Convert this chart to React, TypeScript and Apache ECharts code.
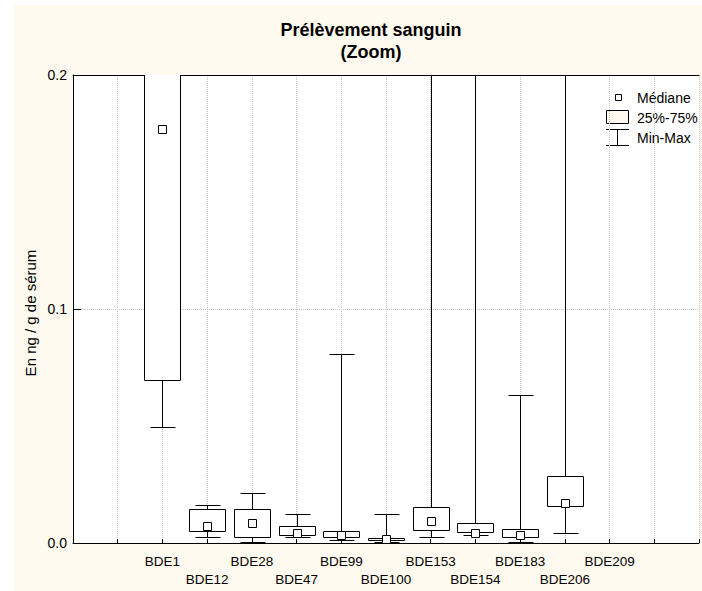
import { useEffect, useRef } from 'react';
import * as echarts from 'echarts';

// ---- data ----
const categories = ['BDE1', 'BDE12', 'BDE28', 'BDE47', 'BDE99', 'BDE100', 'BDE153', 'BDE154', 'BDE183', 'BDE206', 'BDE209'];
const minValues: (number | null)[] = [0.0496, 0.0024, 0.0006, 0.0024, 0.0013, 0.0003, 0.0027, 0.0034, 0.0006, 0.0044, null];
const q1Values: (number | null)[] = [0.0697, 0.0053, 0.0027, 0.0034, 0.0024, 0.0013, 0.0056, 0.0046, 0.0024, 0.0158, null];
const medianValues: (number | null)[] = [0.1768, 0.0074, 0.0084, 0.0041, 0.0034, 0.0016, 0.0094, 0.0041, 0.0033, 0.017, null];
const q3Values: (number | null)[] = [0.26, 0.0144, 0.0145, 0.0073, 0.0051, 0.0023, 0.0155, 0.0087, 0.0061, 0.0286, null];
const maxValues: (number | null)[] = [0.32, 0.0164, 0.0215, 0.0124, 0.0806, 0.0124, 0.24, 0.23, 0.0634, 0.22, null];
const yTicks = [0, 0.1, 0.2];
const titleLines = ['Prélèvement sanguin', '(Zoom)'];
const yName = 'En ng / g de sérum';
const legendNames = ['Médiane', '25%-75%', 'Min-Max'];

const FONT = "'Liberation Sans', Arial, Helvetica, sans-serif";
const CREAM = '#FFFAEF';
const LEAD = 2; // empty slots before first category
const tickNames: string[] = [];
for (let i = 0; i <= categories.length + LEAD + 1; i++) {
  tickNames.push(i >= LEAD && i < LEAD + categories.length ? categories[i - LEAD] : '');
}
const xMax = tickNames.length - 1;

const px = (v: number) => Math.round(v) + 0.5;

export default function App() {
  const ref = useRef<HTMLDivElement>(null);
  useEffect(() => {
    document.body.style.margin = '0';
    const chart = echarts.init(ref.current!, null, { renderer: 'svg' });
    const data = categories
      .map((_, i) => [i + LEAD, minValues[i], q1Values[i], medianValues[i], q3Values[i], maxValues[i]])
      .filter((d) => d[1] != null);

    const lineStyle = { stroke: '#000', lineWidth: 1 };

    chart.setOption({
      animation: false,
      backgroundColor: CREAM,
      textStyle: { fontFamily: FONT },
      grid: { left: 59, top: 70, width: 640, height: 468, show: true, backgroundColor: '#fff', borderWidth: 0 },
      xAxis: [
        {
          type: 'value',
          min: 0,
          max: xMax,
          interval: 1,
          position: 'bottom',
          axisLine: { show: true, lineStyle: { color: '#000', width: 1 } },
          axisTick: { show: true, inside: true, length: 4, lineStyle: { color: '#000' } },
          axisLabel: {
            margin: 9,
            fontSize: 13.5,
            lineHeight: 18,
            color: '#000',
            fontFamily: FONT,
            showMinLabel: true,
            showMaxLabel: true,
            formatter: (v: number) => {
              const i = Math.round(v);
              const n = tickNames[i];
              if (!n) return '';
              return (i - LEAD) % 2 === 0 ? n : '\n' + n;
            },
          },
          splitLine: { show: true, lineStyle: { color: '#c4c4c4', type: 'dotted', width: 1 } },
        },
        {
          type: 'value',
          min: 0,
          max: xMax,
          interval: 1,
          position: 'top',
          axisLine: { show: true, lineStyle: { color: '#000', width: 1 } },
          axisTick: { show: false },
          axisLabel: { show: false },
          splitLine: { show: false },
        },
      ],
      yAxis: {
        type: 'value',
        min: yTicks[0],
        max: yTicks[yTicks.length - 1],
        interval: yTicks[1] - yTicks[0],
        axisLine: { show: true, lineStyle: { color: '#000', width: 1 } },
        axisTick: { show: true, inside: true, length: 8, lineStyle: { color: '#000' } },
        axisLabel: {
          margin: 6,
          fontSize: 14,
          color: '#000',
          fontFamily: FONT,
          formatter: (v: number) => v.toFixed(1),
        },
        splitLine: { show: true, lineStyle: { color: '#c4c4c4', type: 'dotted', width: 1 } },
      },
      series: [
        {
          type: 'custom',
          xAxisIndex: 0,
          yAxisIndex: 0,
          clip: true,
          data,
          encode: { x: 0, y: [1, 2, 3, 4, 5] },
          renderItem: (_params: any, api: any) => {
            const x = api.value(0);
            const cx = px(api.coord([x, 0])[0]);
            const yMin = px(api.coord([x, api.value(1)])[1]);
            const yQ1 = px(api.coord([x, api.value(2)])[1]);
            const yMed = api.coord([x, api.value(3)])[1];
            const yQ3 = px(api.coord([x, api.value(4)])[1]);
            const yMax = px(api.coord([x, api.value(5)])[1]);
            const slot = api.size([1, 0])[0];
            const bw = Math.round(slot * 0.8);
            const cw = Math.round(slot * 0.56);
            const bl = px(cx - 0.5 - bw / 2);
            const cl = px(cx - 0.5 - cw / 2);
            const ms = 8;
            const mTop = Math.round(yMed - ms / 2) + 0.5;
            return {
              type: 'group',
              children: [
                { type: 'line', shape: { x1: cx, y1: yQ3, x2: cx, y2: yMax }, style: lineStyle },
                { type: 'line', shape: { x1: cx, y1: yQ1, x2: cx, y2: yMin }, style: lineStyle },
                { type: 'line', shape: { x1: cl, y1: yMax, x2: cl + cw, y2: yMax }, style: lineStyle },
                { type: 'line', shape: { x1: cl, y1: yMin, x2: cl + cw, y2: yMin }, style: lineStyle },
                {
                  type: 'rect',
                  shape: { x: bl, y: yQ3, width: bw, height: yQ1 - yQ3 },
                  style: { fill: '#fff', stroke: '#000', lineWidth: 1 },
                },
                {
                  type: 'rect',
                  shape: { x: cx - ms / 2, y: mTop, width: ms, height: ms },
                  style: { fill: '#fff', stroke: '#000', lineWidth: 1 },
                },
              ],
            };
          },
        },
      ],
      graphic: [
        {
          type: 'text',
          x: 357,
          y: 25,
          style: { text: titleLines[0], font: `bold 18px ${FONT}`, fill: '#000', align: 'center', verticalAlign: 'middle' },
        },
        {
          type: 'text',
          x: 357,
          y: 47,
          style: { text: titleLines[1], font: `bold 18px ${FONT}`, fill: '#000', align: 'center', verticalAlign: 'middle' },
        },
        {
          type: 'text',
          x: 16,
          y: 308,
          rotation: Math.PI / 2,
          style: { text: yName, font: `15px ${FONT}`, fill: '#000', align: 'center', verticalAlign: 'middle' },
        },
        // legend
        {
          type: 'rect',
          shape: { x: 601.5, y: 89.5, width: 6, height: 6 },
          style: { fill: '#fff', stroke: '#000', lineWidth: 1 },
        },
        {
          type: 'text',
          x: 623,
          y: 93,
          style: { text: legendNames[0], font: `14px ${FONT}`, fill: '#000', align: 'left', verticalAlign: 'middle' },
        },
        {
          type: 'rect',
          shape: { x: 592.5, y: 105.5, width: 22, height: 13 },
          style: { fill: CREAM, stroke: '#000', lineWidth: 1 },
        },
        {
          type: 'text',
          x: 623,
          y: 113,
          style: { text: legendNames[1], font: `14px ${FONT}`, fill: '#000', align: 'left', verticalAlign: 'middle' },
        },
        { type: 'line', shape: { x1: 592, y1: 124.5, x2: 615, y2: 124.5 }, style: { stroke: '#000', lineWidth: 1 } },
        { type: 'line', shape: { x1: 603.5, y1: 124.5, x2: 603.5, y2: 140.5 }, style: { stroke: '#000', lineWidth: 1 } },
        { type: 'line', shape: { x1: 592, y1: 140.5, x2: 615, y2: 140.5 }, style: { stroke: '#000', lineWidth: 1 } },
        {
          type: 'text',
          x: 623,
          y: 133,
          style: { text: legendNames[2], font: `14px ${FONT}`, fill: '#000', align: 'left', verticalAlign: 'middle' },
        },
      ],
    });
    return () => chart.dispose();
  }, []);
  return (
    <div style={{ position: 'relative', width: 702, height: 591, background: '#fff', overflow: 'hidden' }}>
      <div style={{ position: 'absolute', left: 14, top: 5, width: 688, height: 586, background: CREAM }}>
        <div ref={ref} style={{ width: 688, height: 586 }} />
      </div>
    </div>
  );
}
